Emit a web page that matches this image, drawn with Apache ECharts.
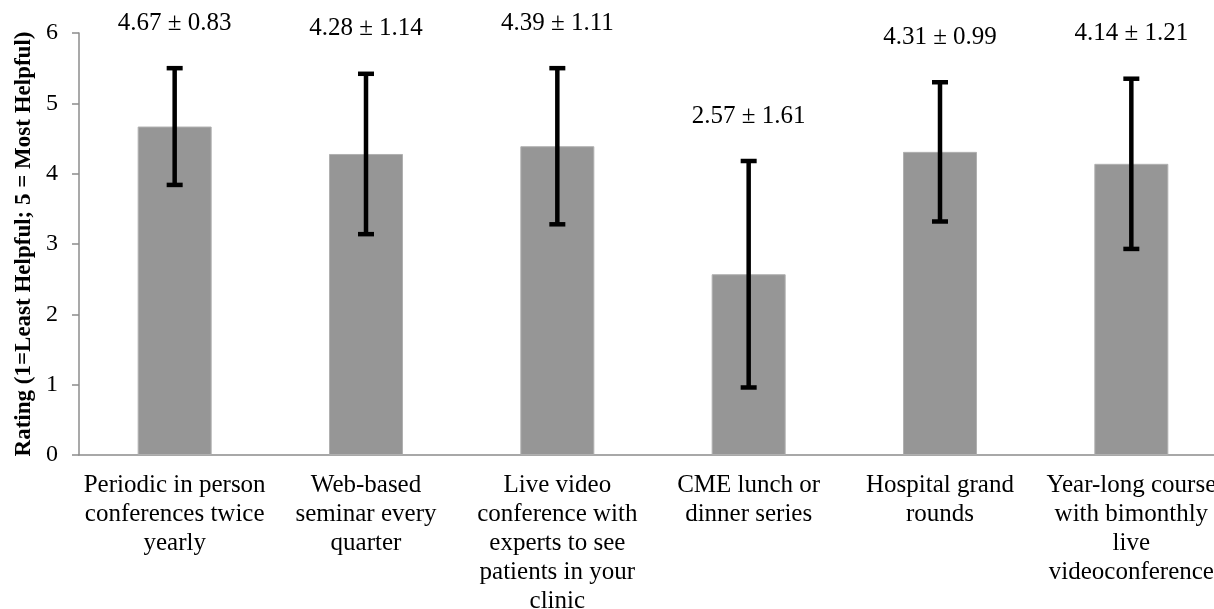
<!DOCTYPE html>
<html>
<head>
<meta charset="utf-8">
<script src="https://cdn.jsdelivr.net/npm/echarts@6/dist/echarts.min.js"></script>
<style>
html,body{margin:0;padding:0;background:#fff;}
#chart{width:1214px;height:609px;}
</style>
</head>
<body>
<div id="chart"></div>
<script>
const categories = [
  "Periodic in person\nconferences twice\nyearly",
  "Web-based\nseminar every\nquarter",
  "Live video\nconference with\nexperts to see\npatients in your\nclinic",
  "CME lunch or\ndinner series",
  "Hospital grand\nrounds",
  "Year-long course\nwith bimonthly\nlive\nvideoconference"
];
const means = [4.67, 4.28, 4.39, 2.57, 4.31, 4.14];
const sds = [0.83, 1.14, 1.11, 1.61, 0.99, 1.21];
const yMin = 0, yMax = 6, yStep = 1;
const yTitle = "Rating (1=Least Helpful; 5 = Most Helpful)";

const serif = "'Liberation Serif', 'Times New Roman', serif";
const chart = echarts.init(document.getElementById('chart'));

const errData = means.map((m, i) => [i, m - sds[i], m + sds[i], m, sds[i]]);

chart.setOption({
  animation: false,
  backgroundColor: '#fff',
  grid: { left: 79, right: -13, top: 33, bottom: 154, containLabel: false, outerBoundsMode: 'none' },
  xAxis: {
    type: 'category',
    data: categories,
    axisLine: { show: true, lineStyle: { color: '#8c8c8c', width: 1.5 } },
    axisTick: { show: false },
    axisLabel: {
      interval: 0, color: '#000', fontFamily: serif, fontSize: 25,
      lineHeight: 29, margin: 16, align: 'center', hideOverlap: false
    },
    splitLine: { show: false }
  },
  yAxis: {
    type: 'value', min: yMin, max: yMax, interval: yStep,
    name: yTitle, nameLocation: 'middle', nameGap: 43,
    nameTextStyle: { fontFamily: serif, fontSize: 23, fontWeight: 'bold', color: '#000' },
    axisLine: { show: true, lineStyle: { color: '#8c8c8c', width: 1.5 } },
    axisTick: { show: true, length: 7, lineStyle: { color: '#8c8c8c', width: 1.5 } },
    axisLabel: { color: '#000', fontFamily: serif, fontSize: 24, margin: 21 },
    splitLine: { show: false }
  },
  series: [
    {
      type: 'bar',
      data: means,
      barWidth: 74,
      itemStyle: { color: '#969696', borderColor: '#b0b0b0', borderWidth: 1 },
      z: 2
    },
    {
      type: 'custom',
      data: errData,
      clip: false,
      z: 5,
      renderItem: function (params, api) {
        const i = api.value(0);
        const lo = api.coord([i, api.value(1)]);
        const hi = api.coord([i, api.value(2)]);
        const half = 8;
        const style = { stroke: '#000', lineWidth: 4.5 };
        const txt = api.value(3).toFixed(2) + ' \u00B1 ' + api.value(4).toFixed(2);
        return {
          type: 'group',
          children: [
            { type: 'line', shape: { x1: hi[0], y1: hi[1], x2: lo[0], y2: lo[1] }, style: style },
            { type: 'line', shape: { x1: hi[0] - half, y1: hi[1], x2: hi[0] + half, y2: hi[1] }, style: style },
            { type: 'line', shape: { x1: lo[0] - half, y1: lo[1], x2: lo[0] + half, y2: lo[1] }, style: style },
            {
              type: 'text',
              style: {
                x: hi[0], y: hi[1] - 45, text: txt,
                fill: '#000', font: '25px ' + serif,
                align: 'center', verticalAlign: 'middle'
              }
            }
          ]
        };
      }
    }
  ]
});
</script>
</body>
</html>
